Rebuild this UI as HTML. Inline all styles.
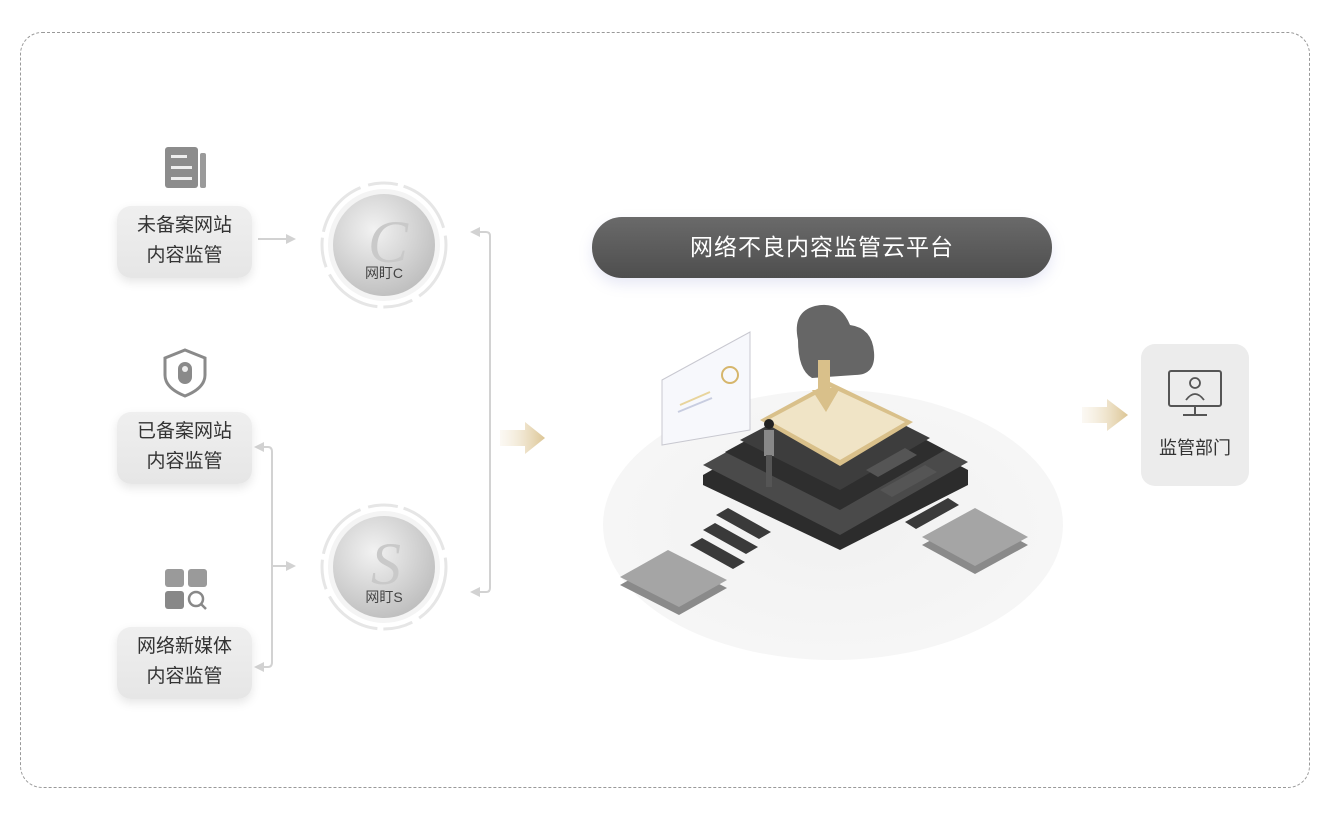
<!DOCTYPE html>
<html><head><meta charset="utf-8"><style>
body{margin:0;width:1330px;height:813px;background:#fff;position:relative;overflow:hidden;font-family:"Liberation Sans","Noto Sans CJK SC",sans-serif}
.frame{position:absolute;left:20px;top:32px;width:1290px;height:756px;border:1px dashed #999;border-radius:22px;box-sizing:border-box}
.box{position:absolute;left:117px;width:135px;height:72px;background:linear-gradient(#efefef,#e6e6e6);border-radius:14px;box-shadow:0 4px 10px rgba(0,0,0,.10);color:#333;font-size:19px;line-height:30px;text-align:center;padding-top:5px;box-sizing:border-box}
.pill{position:absolute;left:592px;top:217px;width:460px;height:61px;border-radius:30px;background:linear-gradient(#6a6a6a,#4e4e4e);color:#fff;font-size:23px;text-align:center;line-height:61px;box-shadow:0 6px 14px rgba(120,130,200,.18);letter-spacing:1px}
.card{position:absolute;left:1141px;top:344px;width:108px;height:142px;background:#ececec;border-radius:14px}
svg{position:absolute;left:0;top:0}
</style></head><body>
<div class="frame"></div>
<svg width="1330" height="813" viewBox="0 0 1330 813">
<defs>
<radialGradient id="disc" cx="40%" cy="35%" r="70%"><stop offset="0" stop-color="#f2f2f2"/><stop offset="1" stop-color="#bdbdbd"/></radialGradient>
<radialGradient id="ell" cx="50%" cy="50%" r="50%"><stop offset="0" stop-color="#f1f1f1"/><stop offset="1" stop-color="#f6f6f6"/></radialGradient>
<linearGradient id="gold" x1="0" x2="1"><stop offset="0" stop-color="#f3ead8" stop-opacity=".3"/><stop offset="1" stop-color="#dcc594"/></linearGradient>
</defs>
<rect x="165" y="147" width="33" height="41" rx="3" fill="#8c8c8c"/><rect x="200" y="153" width="6" height="35" rx="2" fill="#9a9a9a"/>
<rect x="171" y="155" width="16" height="3" fill="#eee"/><rect x="171" y="166" width="21" height="3" fill="#eee"/><rect x="171" y="177" width="21" height="3" fill="#eee"/>
<path d="M185 350 L205 358 L205 375 Q205 388 185 396 Q165 388 165 375 L165 358 Z" fill="none" stroke="#8a8a8a" stroke-width="3"/>
<rect x="178" y="362" width="14" height="22" rx="7" fill="#8a8a8a"/><circle cx="185" cy="369" r="3" fill="#eee"/>
<rect x="165" y="569" width="19" height="18" rx="3" fill="#9a9a9a"/><rect x="188" y="569" width="19" height="18" rx="3" fill="#9a9a9a"/><rect x="165" y="591" width="19" height="18" rx="3" fill="#888"/>
<circle cx="196" cy="599" r="7" fill="none" stroke="#888" stroke-width="2.5"/><line x1="201" y1="604" x2="206" y2="609" stroke="#888" stroke-width="2.5"/>
<g stroke="#d2d2d2" stroke-width="2" fill="none">
<line x1="258" y1="239" x2="288" y2="239"/>
<path d="M263 447 L268 447 Q272 447 272 452 L272 662 Q272 667 268 667 L263 667"/>
<line x1="272" y1="566" x2="288" y2="566"/>
<path d="M478 232 L486 232 Q490 232 490 236 L490 588 Q490 592 486 592 L478 592"/>
</g>
<g fill="#d2d2d2">
<path d="M296 239 L286 234 L286 244Z"/><path d="M296 566 L286 561 L286 571Z"/>
<path d="M254 447 L264 442 L264 452Z"/><path d="M254 667 L264 662 L264 672Z"/>
<path d="M470 232 L480 227 L480 237Z"/><path d="M470 592 L480 587 L480 597Z"/>
</g>
<g>
<circle cx="384" cy="245" r="62" fill="none" stroke="#e6e6e6" stroke-width="3" stroke-dasharray="60 8 30 6"/>
<circle cx="384" cy="245" r="56" fill="#f4f4f4"/>
<circle cx="384" cy="245" r="51" fill="url(#disc)"/>
<text x="388" y="262" font-size="60" font-style="italic" font-family="Liberation Serif,serif" fill="#c9c9c9" text-anchor="middle">C</text>
<text x="384" y="278" font-size="14" fill="#444" text-anchor="middle">网盯C</text>
<circle cx="384" cy="567" r="62" fill="none" stroke="#e6e6e6" stroke-width="3" stroke-dasharray="60 8 30 6"/>
<circle cx="384" cy="567" r="56" fill="#f4f4f4"/>
<circle cx="384" cy="567" r="51" fill="url(#disc)"/>
<text x="386" y="584" font-size="60" font-style="italic" font-family="Liberation Serif,serif" fill="#c9c9c9" text-anchor="middle">S</text>
<text x="384" y="602" font-size="14" fill="#444" text-anchor="middle">网盯S</text>
</g>
<path d="M500 430 L525 430 L525 422 L545 438 L525 454 L525 446 L500 446Z" fill="url(#gold)"/>
<path d="M1082 407 L1107 407 L1107 399 L1128 415 L1107 431 L1107 423 L1082 423Z" fill="url(#gold)"/>
<ellipse cx="833" cy="525" rx="230" ry="135" fill="url(#ell)"/>
<g>
<polygon points="620,585 668,558 727,588 679,615" fill="#8a8a8a"/>
<polygon points="620,577 668,550 727,580 679,607" fill="#a5a5a5"/>
<polygon points="922,545 975,516 1028,545 975,574" fill="#8a8a8a"/>
<polygon points="922,537 975,508 1028,537 975,566" fill="#a5a5a5"/>
<polygon points="690,545 702,538 745,562 733,569" fill="#3a3a3a"/>
<polygon points="703,530 715,523 758,547 746,554" fill="#3a3a3a"/>
<polygon points="716,515 728,508 771,532 759,539" fill="#3a3a3a"/>
<polygon points="905,522 948,498 959,505 916,529" fill="#3a3a3a"/>
<path d="M703 475 L835 400 L968 470 L968 485 L840 550 L703 485Z" fill="#2c2c2c"/>
<polygon points="703,465 835,392 968,462 840,535" fill="#4a4a4a"/>
<polygon points="725,452 835,392 945,450 840,510" fill="#2e2e2e"/>
<polygon points="740,440 835,390 930,438 840,490" fill="#3d3d3d"/>
<polygon points="760,420 830,382 913,422 840,466" fill="#d9c08a"/>
<polygon points="768,420 830,387 905,422 840,460" fill="#f0e4c6"/>
<polygon points="866,470 905,448 917,455 878,477" fill="#555"/>
<polygon points="880,490 925,465 937,472 892,497" fill="#555"/>
<polygon points="662,380 750,332 750,430 662,445" fill="#f7f8fc" stroke="#c8c8d0"/>
<line x1="680" y1="405" x2="710" y2="392" stroke="#e8d49c" stroke-width="2"/><line x1="678" y1="412" x2="712" y2="398" stroke="#c8cde0" stroke-width="2"/>
<circle cx="730" cy="375" r="8" fill="none" stroke="#d6b66c" stroke-width="2"/>
<path d="M798 340 Q792 312 815 306 Q840 300 850 325 Q872 328 874 352 Q876 375 855 375 L812 378 Q798 370 798 340Z" fill="#666"/>
<polygon points="818,360 830,360 830,388 840,388 826,412 812,390 818,390" fill="#d9c08a"/>
<rect x="764" y="430" width="10" height="26" fill="#888"/><rect x="766" y="455" width="6" height="32" fill="#555"/><circle cx="769" cy="424" r="5" fill="#222"/>
</g>
</svg>
<div class="box" style="top:206px">未备案网站<br>内容监管</div>
<div class="box" style="top:412px">已备案网站<br>内容监管</div>
<div class="box" style="top:627px">网络新媒体<br>内容监管</div>
<div class="pill">网络不良内容监管云平台</div>
<div class="card">
<svg width="108" height="142" viewBox="0 0 108 142" style="position:absolute;left:0;top:0">
<rect x="28" y="27" width="52" height="35" rx="2" fill="none" stroke="#555" stroke-width="2"/>
<line x1="54" y1="62" x2="54" y2="70" stroke="#555" stroke-width="2"/><line x1="42" y1="71" x2="66" y2="71" stroke="#555" stroke-width="2"/>
<circle cx="54" cy="39" r="5" fill="none" stroke="#555" stroke-width="1.8"/><path d="M45 56 Q54 44 63 56" fill="none" stroke="#555" stroke-width="1.8"/>
</svg>
<div style="position:absolute;top:90px;width:108px;text-align:center;font-size:18px;color:#333">监管部门</div>
</div>
</body></html>
